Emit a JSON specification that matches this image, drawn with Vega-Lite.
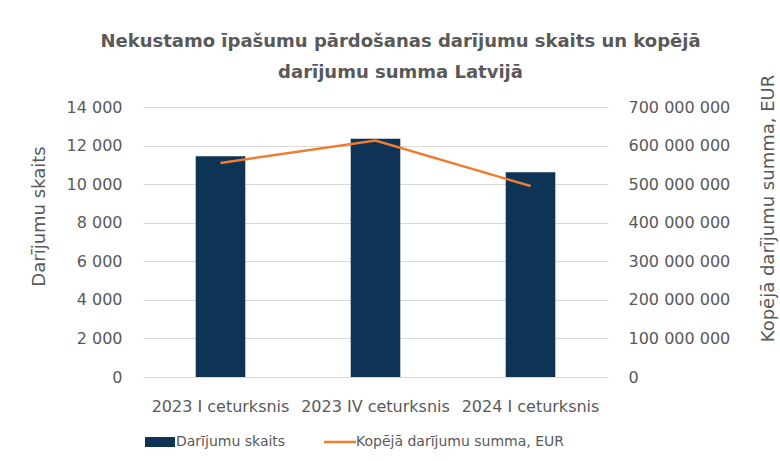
{
  "$schema": "https://vega.github.io/schema/vega-lite/v6.json",
  "autosize": {"type": "none"},
  "width": 465,
  "height": 270,
  "padding": {"left": 143, "top": 107, "right": 172, "bottom": 84},
  "background": "white",
  "title": {
    "text": ["Nekustamo īpašumu pārdošanas darījumu skaits un kopējā", "darījumu summa Latvijā"],
    "anchor": "middle",
    "dx": 25,
    "offset": -8,
    "font": "DejaVu Sans",
    "fontSize": 18,
    "fontWeight": "bold",
    "color": "#595959",
    "lineHeight": 31
  },
  "data": {
    "values": [
      {"q": "2023 I ceturksnis", "skaits": 11450, "summa": 555000000},
      {"q": "2023 IV ceturksnis", "skaits": 12350, "summa": 613000000},
      {"q": "2024 I ceturksnis", "skaits": 10620, "summa": 495000000}
    ]
  },
  "encoding": {
    "x": {
      "field": "q",
      "type": "nominal",
      "sort": null,
      "title": null,
      "scale": {"paddingInner": 0.68, "paddingOuter": 0.34},
      "axis": {
        "labelAngle": 0,
        "domain": false,
        "ticks": false,
        "labelPadding": 21,
        "labelFont": "DejaVu Sans",
        "labelFontSize": 16,
        "labelColor": "#595959",
        "labelLimit": 300
      }
    }
  },
  "layer": [
    {
      "mark": {"type": "bar", "color": "#0e3354"},
      "encoding": {
        "y": {
          "field": "skaits",
          "type": "quantitative",
          "scale": {"domain": [0, 14000]},
          "title": "Darījumu skaits",
          "axis": {
            "orient": "left",
            "values": [0, 2000, 4000, 6000, 8000, 10000, 12000, 14000],
            "format": ",d",
            "domain": false,
            "ticks": false,
            "grid": true,
            "gridColor": "#d9d9d9",
            "gridWidth": 1,
            "labelPadding": 21,
            "labelFont": "DejaVu Sans",
            "labelFontSize": 16,
            "labelColor": "#595959",
            "titleFont": "DejaVu Sans",
            "titleFontSize": 18,
            "titleFontWeight": "normal",
            "titleColor": "#595959",
            "titlePadding": 18,
            "titleY": 109
          }
        },
        "fill": {
          "datum": "Darījumu skaits",
          "type": "nominal",
          "scale": {"range": ["#0e3354"]},
          "legend": {
            "orient": "none",
            "legendX": 0,
            "legendY": 328,
            "title": null,
            "symbolType": "M-1,-1H5V1H-1Z",
            "symbolSize": 100,
            "symbolStrokeWidth": 0,
            "labelFont": "DejaVu Sans",
            "labelFontSize": 14,
            "labelColor": "#595959",
            "labelOffset": 19,
            "labelLimit": 300
          }
        }
      }
    },
    {
      "mark": {"type": "line", "color": "#ed7d31", "strokeWidth": 2.5},
      "encoding": {
        "y": {
          "field": "summa",
          "type": "quantitative",
          "scale": {"domain": [0, 700000000]},
          "title": "Kopējā darījumu summa, EUR",
          "axis": {
            "orient": "right",
            "values": [0, 100000000, 200000000, 300000000, 400000000, 500000000, 600000000, 700000000],
            "format": ",d",
            "domain": false,
            "ticks": false,
            "grid": false,
            "labelPadding": 20,
            "labelFont": "DejaVu Sans",
            "labelFontSize": 16,
            "labelColor": "#595959",
            "titleFont": "DejaVu Sans",
            "titleFontSize": 18,
            "titleFontWeight": "normal",
            "titleColor": "#595959",
            "titleAngle": 270,
            "titlePadding": 48,
            "titleY": 101
          }
        },
        "stroke": {
          "datum": "Kopējā darījumu summa, EUR",
          "type": "nominal",
          "scale": {"range": ["#ed7d31"]},
          "legend": {
            "orient": "none",
            "legendX": 179,
            "legendY": 328,
            "title": null,
            "symbolType": "M-1,0H5.4",
            "symbolSize": 100,
            "symbolStrokeWidth": 2.5,
            "symbolFillColor": "transparent",
            "labelFont": "DejaVu Sans",
            "labelFontSize": 14,
            "labelColor": "#595959",
            "labelOffset": 20,
            "labelLimit": 300
          }
        }
      }
    }
  ],
  "resolve": {"scale": {"y": "independent"}},
  "config": {
    "view": {"stroke": null},
    "locale": {
      "number": {"decimal": ",", "thousands": " ", "grouping": [3], "currency": ["", " €"]}
    }
  }
}
